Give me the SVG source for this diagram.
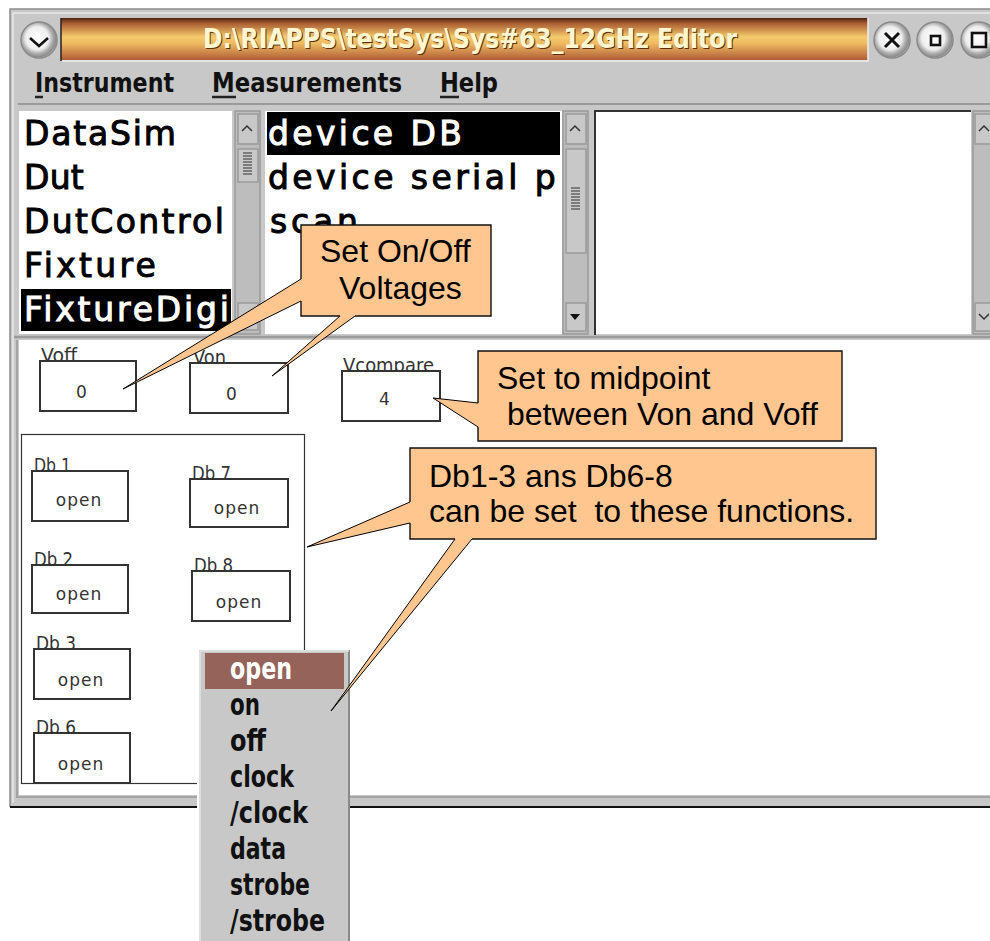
<svg xmlns="http://www.w3.org/2000/svg" width="990" height="941" viewBox="0 0 990 941">
<style>
.list{font-family:"DejaVu Sans",sans-serif;font-size:33px;letter-spacing:2.2px;fill:#000;stroke:#000;stroke-width:1}
.sel{fill:#fff;stroke:#fff}
.menu{font-family:"DejaVu Sans Condensed","DejaVu Sans",sans-serif;font-weight:bold;font-size:27px;fill:#111}
.pop{font-family:"DejaVu Sans Condensed","DejaVu Sans",sans-serif;font-weight:bold;font-size:30px;fill:#111}
.lab{font-family:"DejaVu Sans",sans-serif;font-size:19px;fill:#333}
.val{font-family:"DejaVu Sans",sans-serif;font-size:17px;fill:#333;text-anchor:middle;letter-spacing:1px}
.box{fill:#fff;stroke:#333;stroke-width:2}
.call{fill:#ffc78f;stroke:#111;stroke-width:1.4;stroke-linejoin:miter}
.tail{fill:#ffc78f;stroke:#000;stroke-width:1}
.ct{font-family:"Liberation Sans",Arial,sans-serif;font-size:32px;fill:#000}
.sb{fill:#c8c8c8;stroke:#9a9a9a;stroke-width:1.5}
.btn{fill:url(#ball);stroke:#8a8a8a;stroke-width:1.5}
.ic{fill:none;stroke:#111;stroke-width:2.6}
</style>
<defs>
<linearGradient id="bar" x1="0" y1="0" x2="0" y2="1">
<stop offset="0" stop-color="#4a2010"/><stop offset=".12" stop-color="#a85a30"/><stop offset=".45" stop-color="#f6cb6c"/><stop offset=".6" stop-color="#efbb60"/><stop offset="1" stop-color="#b05c38"/>
</linearGradient>
<radialGradient id="ball" cx=".45" cy=".45" r=".58">
<stop offset="0" stop-color="#fff"/><stop offset=".55" stop-color="#eee"/><stop offset=".75" stop-color="#aaa"/><stop offset=".9" stop-color="#8c8c8c"/><stop offset="1" stop-color="#ddd"/>
</radialGradient>
</defs>
<rect width="990" height="941" fill="#fff"/>
<g id="window">
<rect x="10" y="9" width="985" height="798" fill="#c8c8c8"/>
<path d="M10 807V9H990" fill="none" stroke="#8c8c8c" stroke-width="1.5"/>
<path d="M10 807H990" stroke="#111" stroke-width="2"/>
<path d="M13 803V13H990" fill="none" stroke="#e8e8e8" stroke-width="1.5"/>
<path d="M18 104H990" stroke="#9a9a9a" stroke-width="2"/>
<path d="M14 337H990" stroke="#9a9a9a" stroke-width="2.5"/>
<rect x="19" y="340" width="971" height="455" fill="#fff"/>
<path d="M17 340V797H990" fill="none" stroke="#a4a4a4" stroke-width="2"/>
</g>
<g id="titlebar">
<rect x="61" y="18" width="807" height="42" fill="url(#bar)"/>
<path d="M61 18V61" stroke="#222" stroke-width="1.5"/>
<path d="M62 61H868V18" fill="none" stroke="#eee" stroke-width="1.5"/>
<text x="204" y="49" class="menu" textLength="534" lengthAdjust="spacingAndGlyphs" style="fill:#5a3010">D:\RIAPPS\testSys\Sys#63_12GHz Editor</text>
<text x="203" y="48" class="menu" textLength="534" lengthAdjust="spacingAndGlyphs" style="fill:#fff6d2">D:\RIAPPS\testSys\Sys#63_12GHz Editor</text>
<circle cx="39" cy="40" r="18" class="btn"/><path d="M30 38l9 8 9-8" class="ic"/>
<circle cx="892" cy="40" r="18" class="btn"/><path d="M885 33l14 14M899 33l-14 14" class="ic" style="stroke-width:3"/>
<circle cx="935" cy="40" r="18" class="btn"/><rect x="931" y="36" width="9" height="9" class="ic"/>
<circle cx="979" cy="40" r="18" class="btn"/><rect x="972" y="33" width="14" height="14" class="ic"/>
</g>
<g id="menubar">
<text x="35" y="92" class="menu" textLength="139" lengthAdjust="spacingAndGlyphs">Instrument</text>
<text x="212" y="92" class="menu" textLength="190" lengthAdjust="spacingAndGlyphs">Measurements</text>
<text x="440" y="92" class="menu" textLength="58" lengthAdjust="spacingAndGlyphs">Help</text>
<path d="M35 97h8M212 97h24M440 97h19" stroke="#222" stroke-width="2.5"/>
</g>
<g id="list1">
<rect x="19" y="111" width="213" height="223" fill="#fff"/>
<rect x="21" y="289" width="210" height="42" fill="#000"/>
<text x="24" y="145" class="list" textLength="154">DataSim</text>
<text x="24" y="189" class="list" textLength="62">Dut</text>
<text x="24" y="233" class="list" textLength="202">DutControl</text>
<text x="24" y="277" class="list" textLength="134">Fixture</text>
<text x="24" y="321" class="list sel" textLength="207">FixtureDigi</text>
<rect x="235" y="111" width="25" height="223" fill="#bdbdbd" stroke="#999" stroke-width="1.5"/>
<rect x="238" y="114" width="20" height="30" class="sb"/><path d="M242 131l5-5 5 5" fill="none" stroke="#333" stroke-width="1.5"/>
<rect x="238" y="149" width="20" height="33" class="sb"/><path d="M243 153h9M243 156h9M243 159h9M243 162h9M243 165h9M243 168h9M243 171h9M243 174h9" stroke="#333"/>
<rect x="238" y="303" width="20" height="27" class="sb"/>
</g>
<g id="list2">
<rect x="265" y="111" width="297" height="223" fill="#fff"/>
<rect x="267" y="112" width="293" height="43" fill="#000"/>
<text x="268" y="145" class="list sel" textLength="196">device DB</text>
<text x="268" y="189" class="list" textLength="290">device serial p</text>
<text x="270" y="233" class="list" textLength="90">scan</text>
<rect x="563" y="111" width="25" height="223" fill="#bdbdbd" stroke="#999" stroke-width="1.5"/>
<rect x="566" y="114" width="20" height="30" class="sb"/><path d="M570 131l5-5 5 5" fill="none" stroke="#333" stroke-width="1.5"/>
<rect x="566" y="149" width="20" height="104" class="sb"/><path d="M571 188h9M571 191h9M571 194h9M571 197h9M571 200h9M571 203h9M571 206h9M571 209h9" stroke="#333"/>
<rect x="566" y="303" width="20" height="28" class="sb"/><path d="M570 314h10l-5 6z" fill="#111"/>
</g>
<g id="list3">
<rect x="595" y="111" width="376" height="223" fill="#fff"/>
<path d="M595 335V111H971" fill="none" stroke="#333" stroke-width="2"/>
<rect x="973" y="111" width="20" height="223" fill="#bdbdbd" stroke="#999" stroke-width="1.5"/>
<rect x="975" y="114" width="20" height="30" class="sb"/><path d="M979 131l5-5 5 5" fill="none" stroke="#333" stroke-width="1.5"/>
<rect x="975" y="303" width="20" height="28" class="sb"/><path d="M979 314l5 5 5-5" fill="none" stroke="#333" stroke-width="1.5"/>
</g>
<g id="voff"><text x="41" y="362" class="lab" textLength="36" lengthAdjust="spacingAndGlyphs">Voff</text><rect x="40" y="361" width="96" height="50" class="box"/><text x="82" y="398" class="val">0</text></g>
<g id="von"><text x="193" y="364" class="lab" textLength="33" lengthAdjust="spacingAndGlyphs">Von</text><rect x="190" y="363" width="98" height="50" class="box"/><text x="232" y="400" class="val">0</text></g>
<g id="vcompare"><text x="343" y="372" class="lab" textLength="91" lengthAdjust="spacingAndGlyphs">Vcompare</text><rect x="342" y="371" width="98" height="50" class="box"/><text x="385" y="405" class="val">4</text></g>
<g id="dbgroup"><rect x="21.500" y="434.500" width="283" height="349" fill="#fff" stroke="#333" stroke-width="1.2"/></g>
<g id="db1"><text x="34" y="472" class="lab" textLength="37" lengthAdjust="spacingAndGlyphs">Db 1</text><rect x="32" y="471" width="96" height="50" class="box"/><text x="79" y="506" class="val">open</text></g>
<g id="db7"><text x="192" y="480" class="lab" textLength="39" lengthAdjust="spacingAndGlyphs">Db 7</text><rect x="190" y="479" width="98" height="48" class="box"/><text x="237" y="514" class="val">open</text></g>
<g id="db2"><text x="34" y="566" class="lab" textLength="39" lengthAdjust="spacingAndGlyphs">Db 2</text><rect x="32" y="565" width="96" height="48" class="box"/><text x="79" y="600" class="val">open</text></g>
<g id="db8"><text x="194" y="572" class="lab" textLength="39" lengthAdjust="spacingAndGlyphs">Db 8</text><rect x="192" y="571" width="98" height="50" class="box"/><text x="239" y="608" class="val">open</text></g>
<g id="db3"><text x="36" y="650" class="lab" textLength="40" lengthAdjust="spacingAndGlyphs">Db 3</text><rect x="34" y="649" width="96" height="50" class="box"/><text x="81" y="686" class="val">open</text></g>
<g id="db6"><text x="36" y="734" class="lab" textLength="40" lengthAdjust="spacingAndGlyphs">Db 6</text><rect x="34" y="733" width="96" height="50" class="box"/><text x="81" y="770" class="val">open</text></g>
<g id="popup">
<rect x="197" y="650" width="4" height="291" fill="#fff"/>
<rect x="199" y="650" width="151" height="291" fill="#c8c8c8"/>
<path d="M349 650V941" stroke="#8a8a8a" stroke-width="2"/>
<path d="M200 941V651H349" fill="none" stroke="#e4e4e4" stroke-width="1.5"/>
<rect x="205" y="653" width="139" height="36" fill="#96635a"/>
<text x="230" y="679" class="pop" textLength="62" lengthAdjust="spacingAndGlyphs" style="fill:#fff">open</text>
<text x="230" y="715" class="pop" textLength="30" lengthAdjust="spacingAndGlyphs">on</text>
<text x="230" y="751" class="pop" textLength="36" lengthAdjust="spacingAndGlyphs">off</text>
<text x="230" y="787" class="pop" textLength="64" lengthAdjust="spacingAndGlyphs">clock</text>
<text x="230" y="823" class="pop" textLength="78" lengthAdjust="spacingAndGlyphs">/clock</text>
<text x="230" y="859" class="pop" textLength="56" lengthAdjust="spacingAndGlyphs">data</text>
<text x="230" y="895" class="pop" textLength="80" lengthAdjust="spacingAndGlyphs">strobe</text>
<text x="230" y="931" class="pop" textLength="95" lengthAdjust="spacingAndGlyphs">/strobe</text>
</g>
<g id="connectors">
<path d="M301 279L123 389L301 301" class="tail"/>
<path d="M340 316L272 376L355 316" class="tail"/>
<path d="M478 403L433 398L478 427" class="tail"/>
<path d="M410 502L307 547L410 523" class="tail"/>
<path d="M455 539L331 711L472 539" class="tail"/>
</g>
<g id="note-voltages">
<path d="M301 225H491V316H355L340 316H301V301V279Z" class="call" style="stroke:none"/>
<path d="M301 279V225H491V316H355M340 316H301V301" class="call" style="fill:none"/>
<text x="320" y="262" class="ct">Set On/Off</text><text x="339" y="299" class="ct">Voltages</text>
</g>
<g id="note-midpoint">
<rect x="478" y="351" width="364" height="90" class="call" style="stroke:none"/>
<path d="M478 403V351H842V441H478V427" class="call" style="fill:none"/>
<text x="497" y="389" class="ct">Set to midpoint</text><text x="507" y="425" class="ct">between Von and Voff</text>
</g>
<g id="note-functions">
<rect x="410" y="448" width="466" height="91" class="call" style="stroke:none"/>
<path d="M410 502V448H876V539H472M455 539H410V523" class="call" style="fill:none"/>
<text x="429" y="487" class="ct">Db1-3 ans Db6-8</text><text x="429" y="522" class="ct">can be set&#160; to these functions.</text>
</g>
</svg>
